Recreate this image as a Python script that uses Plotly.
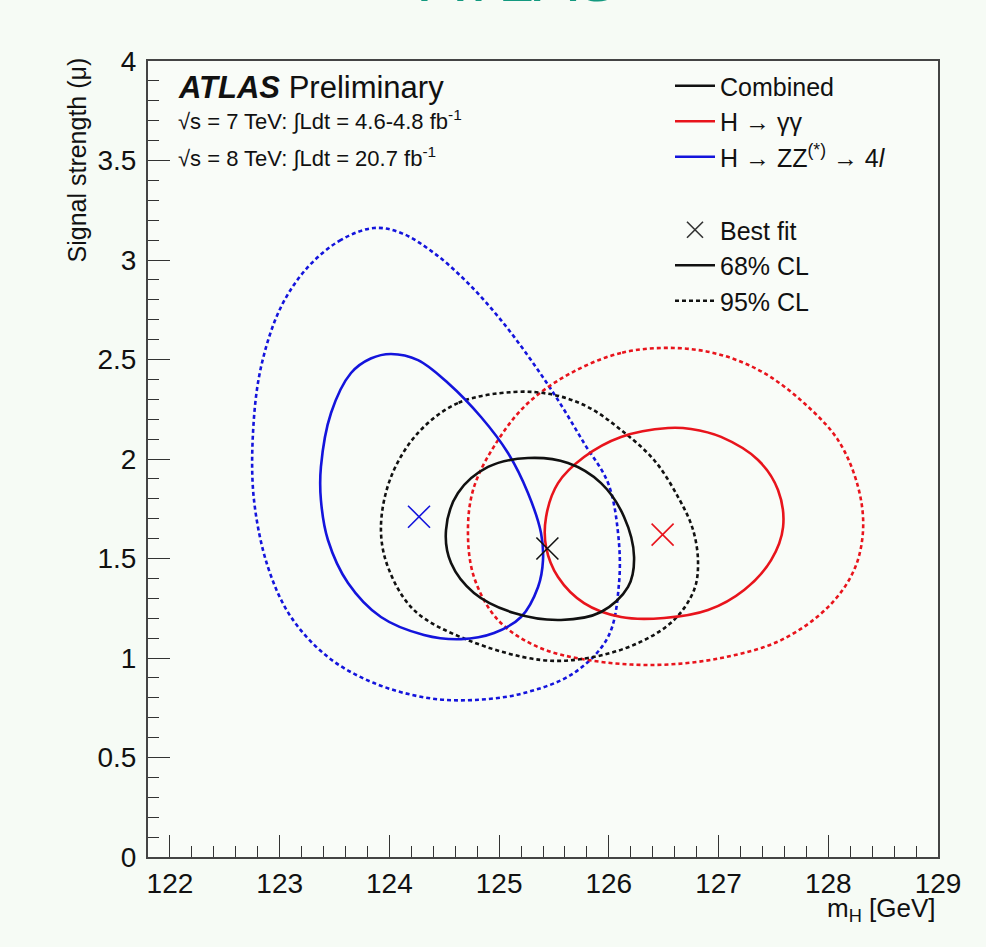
import plotly.graph_objects as go

# ---------------- data ----------------
# Combined
comb_best_m = [125.44]
comb_best_mu = [1.55]
comb68_m = [125.263, 124.899, 124.625, 124.516, 124.562, 124.771, 125.136, 125.564, 125.929, 126.175, 126.230, 126.139, 125.929, 125.628]
comb68_mu = [2.005, 1.960, 1.829, 1.643, 1.477, 1.327, 1.226, 1.191, 1.231, 1.357, 1.508, 1.709, 1.879, 1.980]
comb95_m = [125.136, 124.625, 124.261, 124.015, 123.923, 123.987, 124.224, 124.716, 125.382, 125.810, 126.266, 126.594, 126.777, 126.813, 126.768, 126.631, 126.412, 126.111, 125.810, 125.500]
comb95_mu = [2.337, 2.281, 2.131, 1.910, 1.658, 1.457, 1.241, 1.090, 0.990, 1.000, 1.075, 1.191, 1.342, 1.477, 1.643, 1.809, 1.995, 2.146, 2.261, 2.322]

# H -> gamma gamma
gg_best_m = [126.49]
gg_best_mu = [1.62]
gg68_m = [126.540, 126.111, 125.774, 125.537, 125.428, 125.428, 125.537, 125.774, 126.111, 126.503, 126.904, 127.233, 127.479, 127.588, 127.542, 127.360, 127.023, 126.749]
gg68_mu = [2.156, 2.111, 2.010, 1.879, 1.709, 1.558, 1.407, 1.276, 1.206, 1.201, 1.241, 1.342, 1.492, 1.658, 1.844, 1.995, 2.111, 2.151]
gg95_m = [126.594, 126.111, 125.655, 125.263, 124.990, 124.771, 124.716, 124.771, 124.990, 125.355, 125.810, 126.412, 127.023, 127.570, 127.998, 128.235, 128.317, 128.272, 128.089, 127.779, 127.415, 127.023]
gg95_mu = [2.558, 2.533, 2.432, 2.281, 2.095, 1.859, 1.643, 1.407, 1.191, 1.055, 0.990, 0.965, 1.000, 1.090, 1.256, 1.442, 1.643, 1.859, 2.095, 2.281, 2.432, 2.523]

# H -> ZZ(*) -> 4l
zz_best_m = [124.27]
zz_best_mu = [1.71]
zz68_m = [124.015, 124.261, 124.534, 124.835, 125.081, 125.263, 125.382, 125.400, 125.355, 125.200, 124.954, 124.653, 124.315, 123.923, 123.623, 123.440, 123.376, 123.376, 123.468, 123.650, 123.830]
zz68_mu = [2.528, 2.497, 2.382, 2.211, 2.030, 1.829, 1.628, 1.492, 1.357, 1.206, 1.126, 1.095, 1.116, 1.206, 1.377, 1.593, 1.794, 1.960, 2.231, 2.432, 2.505]
zz95_m = [123.860, 123.559, 123.258, 123.012, 122.830, 122.757, 122.766, 122.893, 123.103, 123.440, 123.860, 124.352, 124.771, 125.227, 125.683, 125.993, 126.093, 126.084, 125.993, 125.774, 125.537, 125.291, 125.017, 124.716, 124.407, 124.106]
zz95_mu = [3.161, 3.101, 2.965, 2.764, 2.462, 2.131, 1.794, 1.457, 1.206, 1.005, 0.874, 0.799, 0.789, 0.824, 0.925, 1.106, 1.377, 1.628, 1.879, 2.080, 2.296, 2.497, 2.698, 2.884, 3.035, 3.136]

x_ticks = [122, 123, 124, 125, 126, 127, 128, 129]
y_ticks = [0, 0.5, 1, 1.5, 2, 2.5, 3, 3.5, 4]
y_ticklabels = ["0", "0.5", "1", "1.5", "2", "2.5", "3", "3.5", "4"]

# ---------------- styling ----------------
BLACK = "#111111"
RED = "#e8141c"
BLUE = "#1414dc"
FONT = "Liberation Sans, Arial, sans-serif"
DASH = "4px,3px"
PAPER_BG = "#f6fbf5"
PLOT_BG = "#f9fcf8"


def closed(a):
    return list(a) + [a[0]]


fig = go.Figure()

def contour(m, mu, color, dash):
    fig.add_trace(go.Scatter(
        x=closed(m), y=closed(mu), mode="lines",
        line=dict(color=color, width=2.6, dash=dash, shape="spline", smoothing=1.0),
        showlegend=False, hoverinfo="skip"))

def best(m, mu, color):
    fig.add_trace(go.Scatter(
        x=m, y=mu, mode="markers",
        marker=dict(symbol="x-thin", size=22, line=dict(color=color, width=1.6), color=color),
        showlegend=False, hoverinfo="skip"))

# 95% contours
contour(zz95_m, zz95_mu, BLUE, DASH)
contour(gg95_m, gg95_mu, RED, DASH)
contour(comb95_m, comb95_mu, BLACK, DASH)
# 68% contours
contour(zz68_m, zz68_mu, BLUE, "solid")
contour(gg68_m, gg68_mu, RED, "solid")
contour(comb68_m, comb68_mu, BLACK, "solid")
# best fits
best(zz_best_m, zz_best_mu, BLUE)
best(gg_best_m, gg_best_mu, RED)
best(comb_best_m, comb_best_mu, BLACK)

# legend entries (first block)
for nm, col in [("Combined", BLACK), ("H \u2192 \u03b3\u03b3", RED),
                ("H \u2192 ZZ<sup>(*)</sup> \u2192 4<i>l</i>", BLUE)]:
    fig.add_trace(go.Scatter(x=[None], y=[None], mode="lines",
                             line=dict(color=col, width=2.6), name=nm,
                             legend="legend", showlegend=True))
# legend entries (second block)
fig.add_trace(go.Scatter(x=[None], y=[None], mode="markers",
                         marker=dict(symbol="x-thin", size=16, line=dict(color="#333", width=1.6)),
                         name="Best fit", legend="legend2", showlegend=True))
fig.add_trace(go.Scatter(x=[None], y=[None], mode="lines",
                         line=dict(color=BLACK, width=2.6), name="68% CL",
                         legend="legend2", showlegend=True))
fig.add_trace(go.Scatter(x=[None], y=[None], mode="lines",
                         line=dict(color=BLACK, width=2.6, dash=DASH), name="95% CL",
                         legend="legend2", showlegend=True))

W, H = 986, 947
L, R, T, B = 148, 48, 61, 90
pw, ph = W - L - R, H - T - B

def px(xp):
    return (xp - L) / pw

def py(yp):
    return (H - B - yp) / ph

axis_common = dict(showline=True, linecolor="#444", linewidth=2, mirror=True,
                   showgrid=False, zeroline=False, ticks="inside", ticklen=22,
                   tickwidth=1.3, tickcolor="#333",
                   tickfont=dict(family=FONT, size=28, color="#111"))

legend_font = dict(family=FONT, size=25, color="#111")
fig.update_layout(
    width=W, height=H,
    margin=dict(l=L, r=R, t=T, b=B, autoexpand=False),
    paper_bgcolor=PAPER_BG, plot_bgcolor=PLOT_BG,
    font=dict(family=FONT, color="#111"),
    xaxis=dict(range=[121.8, 129], tickvals=x_ticks, ticklabelstandoff=0,
               minor=dict(ticks="inside", dtick=0.2, tick0=122, ticklen=11, tickcolor="#333", tickwidth=1.3),
               **axis_common),
    yaxis=dict(range=[0, 4], tickvals=y_ticks, ticktext=y_ticklabels, ticklabelstandoff=4,
               minor=dict(ticks="inside", dtick=0.1, tick0=0, ticklen=11, tickcolor="#333", tickwidth=1.3),
               **axis_common),
    legend=dict(x=px(670), y=py(63), xanchor="left", yanchor="top",
                bgcolor="rgba(0,0,0,0)", borderwidth=0, font=legend_font,
                itemwidth=40, tracegroupgap=0),
    legend2=dict(x=px(670), y=py(207), xanchor="left", yanchor="top",
                 bgcolor="rgba(0,0,0,0)", borderwidth=0, font=legend_font,
                 itemwidth=40, tracegroupgap=0),
    showlegend=True,
)

ann = [
    dict(text="<b><i>ATLAS</i></b> Preliminary", x=px(176), y=py(88), xanchor="left", yanchor="middle",
         font=dict(family=FONT, size=31, color="#111")),
    dict(text="\u221as = 7 TeV: \u222bLdt = 4.6-4.8 fb<sup>-1</sup>", x=px(176), y=py(120), xanchor="left", yanchor="middle",
         font=dict(family=FONT, size=22, color="#111")),
    dict(text="\u221as = 8 TeV: \u222bLdt = 20.7 fb<sup>-1</sup>", x=px(176), y=py(157), xanchor="left", yanchor="middle",
         font=dict(family=FONT, size=22, color="#111")),
    dict(text="Signal strength (\u03bc)", textangle=-90, x=px(77), y=py(56), xanchor="center", yanchor="top",
         font=dict(family=FONT, size=25, color="#111")),
    dict(text="m<sub>H</sub> [GeV]", x=px(938), y=py(909), xanchor="right", yanchor="middle",
         font=dict(family=FONT, size=26, color="#111")),
    dict(text="ATLAS", x=px(520), y=py(17), xanchor="center", yanchor="bottom",
         font=dict(family=FONT, size=64, color="#13997f")),
]
for a in ann:
    a.update(xref="paper", yref="paper", showarrow=False)
fig.update_layout(annotations=ann)

fig.write_html("out.html", config={"displayModeBar": False},
               post_script="document.body.style.margin='0px';")
